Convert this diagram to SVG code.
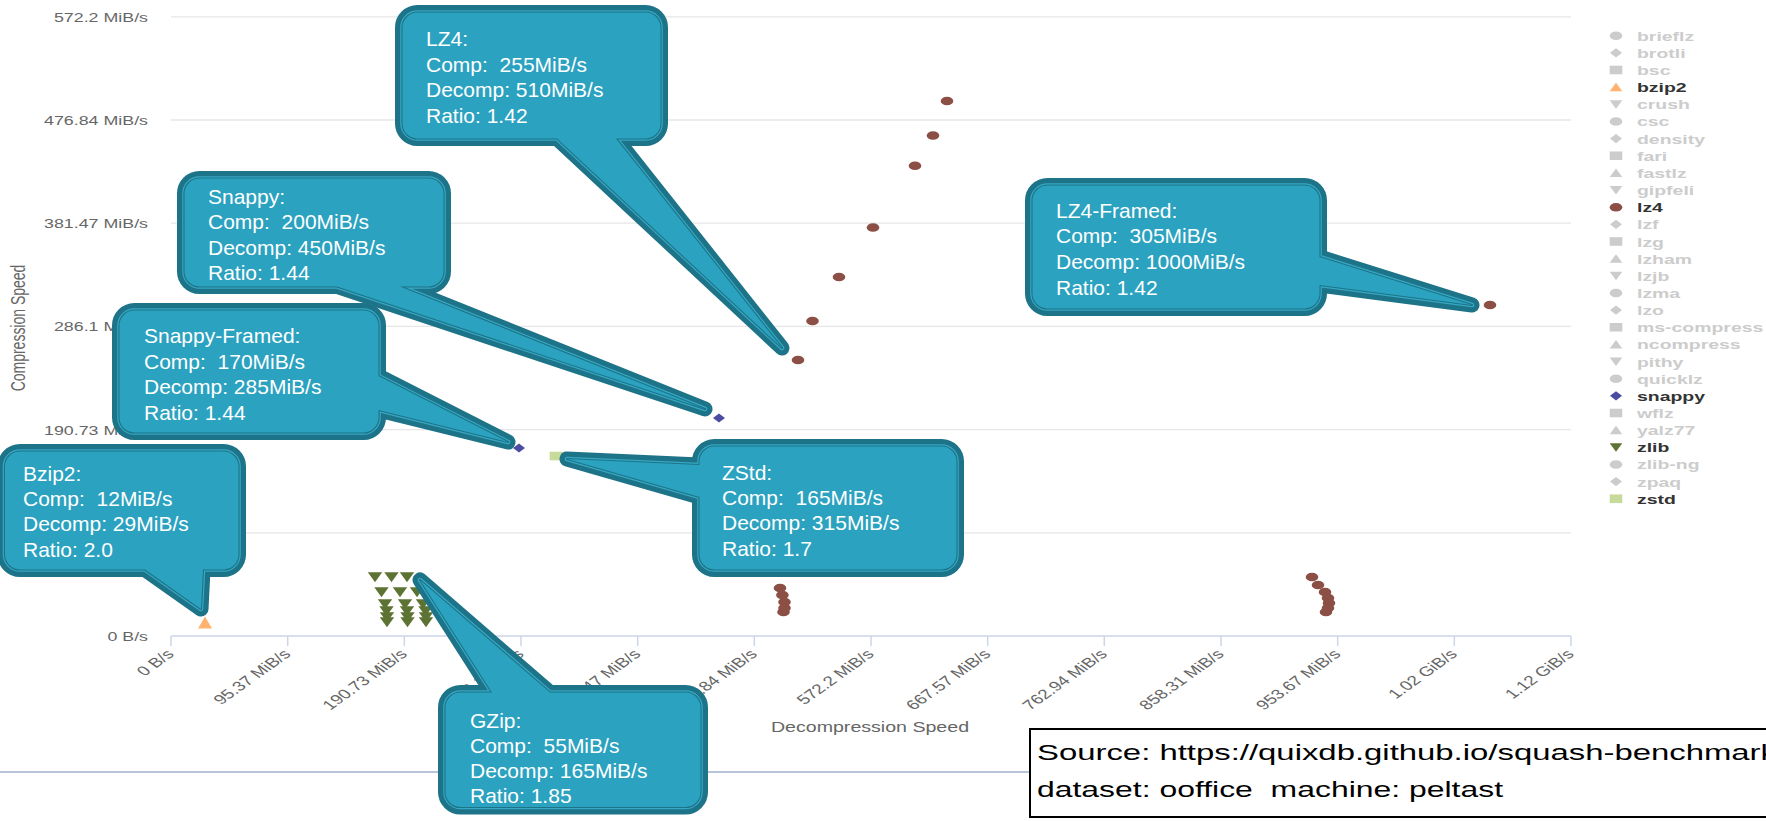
<svg xmlns="http://www.w3.org/2000/svg" xmlns:xlink="http://www.w3.org/1999/xlink" width="1766" height="821" viewBox="0 0 1766 821">
<style>
.grid line{stroke:#e6e6e6;stroke-width:1.3}
.axis{stroke:#ccd6eb;stroke-width:1.5;fill:none}
.ax{font-family:"Liberation Sans",Arial,sans-serif;font-size:13.5px;fill:#666}
.ttl{font-family:"Liberation Sans",Arial,sans-serif;font-size:14px;fill:#666}
.lg{font-family:"Liberation Sans",Arial,sans-serif;font-size:13.5px;font-weight:bold;fill:#cccccc}
.lg.on{fill:#333333}
.off{fill:#cccccc}
.b1{fill:none;stroke:#1d7388;stroke-width:15;stroke-linejoin:round}
.b2{fill:none;stroke:#36a8c3;stroke-width:4.6;stroke-linejoin:round}
.b3{fill:none;stroke:#1d7388;stroke-width:2.2;stroke-linejoin:round}
.bf{fill:#2ba2bf;stroke:none}
.bt{font-family:"Liberation Sans",Arial,sans-serif;font-size:21px;fill:#ffffff}
.src{font-family:"Liberation Sans",Arial,sans-serif;font-size:22px;fill:#000}
.lz4{fill:#8b4f45}
.snp{fill:#4d4ca3}
.zl{fill:#5d7334}
.zs{fill:#c8da9a}
.bz{fill:#ffb36e}
</style>
<defs>
<ellipse id="m-circle" rx="6.3" ry="4.3"/>
<path id="m-diamond" d="M0,-4.6 L6,0 L0,4.6 L-6,0 Z"/>
<rect id="m-square" x="-6.3" y="-4.3" width="12.6" height="8.6"/>
<path id="m-tri" d="M0,-4.5 L6.3,4 L-6.3,4 Z"/>
<path id="m-tridown" d="M-6.3,-4 L6.3,-4 L0,4.5 Z"/>
<path id="m-zl" d="M-7.2,-4.8 L7.2,-4.8 L0,5.2 Z"/>
<path id="p-lz4" d="M417.5,12.5 H645.5 A15,15 0 0 1 660.5,27.5 V123.5 A15,15 0 0 1 645.5,138.5 H616 L782,348 L557,138.5 H417.5 A15,15 0 0 1 402.5,123.5 V27.5 A15,15 0 0 1 417.5,12.5 Z"/>
<path id="p-snappy" d="M199.5,178.5 H428.5 A15,15 0 0 1 443.5,193.5 V271.5 A15,15 0 0 1 428.5,286.5 H400 L705,409 L337,286.5 H199.5 A15,15 0 0 1 184.5,271.5 V193.5 A15,15 0 0 1 199.5,178.5 Z"/>
<path id="p-sf" d="M134.5,310.5 H363.5 A15,15 0 0 1 378.5,325.5 V376 L508,442 L378.5,410 V417.5 A15,15 0 0 1 363.5,432.5 H134.5 A15,15 0 0 1 119.5,417.5 V325.5 A15,15 0 0 1 134.5,310.5 Z"/>
<path id="p-bzip2" d="M20,451.5 H223.5 A15,15 0 0 1 238.5,466.5 V554.5 A15,15 0 0 1 223.5,569.5 H203 L201,609 L145,569.5 H20 A15,15 0 0 1 5,554.5 V466.5 A15,15 0 0 1 20,451.5 Z"/>
<path id="p-zstd" d="M714.5,446.5 H941.5 A15,15 0 0 1 956.5,461.5 V554.5 A15,15 0 0 1 941.5,569.5 H714.5 A15,15 0 0 1 699.5,554.5 V497 L567,459 L699.5,465 V461.5 A15,15 0 0 1 714.5,446.5 Z"/>
<path id="p-lz4f" d="M1047.5,185.5 H1304.5 A15,15 0 0 1 1319.5,200.5 V257 L1472,305 L1319.5,285 V293.5 A15,15 0 0 1 1304.5,308.5 H1047.5 A15,15 0 0 1 1032.5,293.5 V200.5 A15,15 0 0 1 1047.5,185.5 Z"/>
<path id="p-gzip" d="M460.5,692.5 H492 L420,580 L550,692.5 H685.5 A15,15 0 0 1 700.5,707.5 V792 A15,15 0 0 1 685.5,807 H460.5 A15,15 0 0 1 445.5,792 V707.5 A15,15 0 0 1 460.5,692.5 Z"/>
</defs>
<rect width="1766" height="821" fill="#ffffff"/>

<g id="chart-grid" class="grid">
<line x1="171" y1="16.8" x2="1571" y2="16.8"/>
<line x1="171" y1="120" x2="1571" y2="120"/>
<line x1="171" y1="223.2" x2="1571" y2="223.2"/>
<line x1="171" y1="326.4" x2="1571" y2="326.4"/>
<line x1="171" y1="429.6" x2="1571" y2="429.6"/>
<line x1="171" y1="532.8" x2="1571" y2="532.8"/>
</g>

<g id="x-axis">
<path class="axis" d="M171,636 H1571 M171,636 V646 M287.7,636 V646 M404.3,636 V646 M521,636 V646 M637.7,636 V646 M754.3,636 V646 M871,636 V646 M987.7,636 V646 M1104.3,636 V646 M1221,636 V646 M1337.7,636 V646 M1454.3,636 V646 M1571,636 V646"/>
<text class="ax" text-anchor="end" transform="translate(175,655) scale(1.4,1) rotate(-45)">0 B/s</text>
<text class="ax" text-anchor="end" transform="translate(291.7,655) scale(1.4,1) rotate(-45)">95.37 MiB/s</text>
<text class="ax" text-anchor="end" transform="translate(408.3,655) scale(1.4,1) rotate(-45)">190.73 MiB/s</text>
<text class="ax" text-anchor="end" transform="translate(525,655) scale(1.4,1) rotate(-45)">286.1 MiB/s</text>
<text class="ax" text-anchor="end" transform="translate(641.7,655) scale(1.4,1) rotate(-45)">381.47 MiB/s</text>
<text class="ax" text-anchor="end" transform="translate(758.3,655) scale(1.4,1) rotate(-45)">476.84 MiB/s</text>
<text class="ax" text-anchor="end" transform="translate(875,655) scale(1.4,1) rotate(-45)">572.2 MiB/s</text>
<text class="ax" text-anchor="end" transform="translate(991.7,655) scale(1.4,1) rotate(-45)">667.57 MiB/s</text>
<text class="ax" text-anchor="end" transform="translate(1108.3,655) scale(1.4,1) rotate(-45)">762.94 MiB/s</text>
<text class="ax" text-anchor="end" transform="translate(1225,655) scale(1.4,1) rotate(-45)">858.31 MiB/s</text>
<text class="ax" text-anchor="end" transform="translate(1341.7,655) scale(1.4,1) rotate(-45)">953.67 MiB/s</text>
<text class="ax" text-anchor="end" transform="translate(1458.3,655) scale(1.4,1) rotate(-45)">1.02 GiB/s</text>
<text class="ax" text-anchor="end" transform="translate(1575,655) scale(1.4,1) rotate(-45)">1.12 GiB/s</text>
<text class="ttl" text-anchor="middle" transform="translate(870,732) scale(1.4,1)">Decompression Speed</text>
</g>

<g id="y-axis">
<text class="ax" text-anchor="end" transform="translate(148,21.8) scale(1.32,1)">572.2 MiB/s</text>
<text class="ax" text-anchor="end" transform="translate(148,125) scale(1.32,1)">476.84 MiB/s</text>
<text class="ax" text-anchor="end" transform="translate(148,228.2) scale(1.32,1)">381.47 MiB/s</text>
<text class="ax" text-anchor="end" transform="translate(148,331.4) scale(1.32,1)">286.1 MiB/s</text>
<text class="ax" text-anchor="end" transform="translate(148,434.6) scale(1.32,1)">190.73 MiB/s</text>
<text class="ax" text-anchor="end" transform="translate(148,641) scale(1.32,1)">0 B/s</text>
<text class="ttl" text-anchor="middle" transform="translate(25,328) scale(1.4,1) rotate(-90)">Compression Speed</text>
</g>

<g id="series-lz4" class="lz4">
<use href="#m-circle" x="798" y="360"/>
<use href="#m-circle" x="812.5" y="321"/>
<use href="#m-circle" x="839" y="277"/>
<use href="#m-circle" x="873" y="227.5"/>
<use href="#m-circle" x="915" y="165.7"/>
<use href="#m-circle" x="933" y="135.5"/>
<use href="#m-circle" x="947" y="101"/>
<use href="#m-circle" x="780" y="588"/>
<use href="#m-circle" x="782.4" y="595"/>
<use href="#m-circle" x="784.5" y="602"/>
<use href="#m-circle" x="784.5" y="608"/>
<use href="#m-circle" x="783.5" y="612"/>
<use href="#m-circle" x="1312" y="577"/>
<use href="#m-circle" x="1318" y="585"/>
<use href="#m-circle" x="1325" y="592"/>
<use href="#m-circle" x="1328" y="598"/>
<use href="#m-circle" x="1329" y="603"/>
<use href="#m-circle" x="1328" y="608"/>
<use href="#m-circle" x="1326" y="612"/>
<use href="#m-circle" x="1490" y="305"/>
</g>
<g id="series-snappy" class="snp">
<use href="#m-diamond" x="719" y="418"/>
<use href="#m-diamond" x="519" y="448"/>
</g>
<g id="series-zstd" class="zs">
<use href="#m-square" x="556" y="456"/>
</g>
<g id="series-bzip2" class="bz">
<path d="M205,616.5 L212,628.5 L198,628.5 Z"/>
</g>
<g id="series-zlib" class="zl">
<use href="#m-zl" x="375" y="577"/>
<use href="#m-zl" x="391.5" y="577"/>
<use href="#m-zl" x="407" y="577"/>
<use href="#m-zl" x="381.5" y="592"/>
<use href="#m-zl" x="400" y="592"/>
<use href="#m-zl" x="417" y="592"/>
<use href="#m-zl" x="385" y="604"/>
<use href="#m-zl" x="405" y="604"/>
<use href="#m-zl" x="423" y="604"/>
<use href="#m-zl" x="386.5" y="611"/>
<use href="#m-zl" x="407" y="611"/>
<use href="#m-zl" x="425.5" y="611"/>
<use href="#m-zl" x="387" y="617"/>
<use href="#m-zl" x="407.5" y="617"/>
<use href="#m-zl" x="426" y="617"/>
<use href="#m-zl" x="387" y="622"/>
<use href="#m-zl" x="407.5" y="622"/>
<use href="#m-zl" x="426" y="622"/>
</g>

<g id="legend">
<use href="#m-circle" class="off" x="1616" y="35.7"/><text class="lg" transform="translate(1637,40.7) scale(1.44,1)">brieflz</text>
<use href="#m-diamond" class="off" x="1616" y="52.85"/><text class="lg" transform="translate(1637,57.85) scale(1.44,1)">brotli</text>
<use href="#m-square" class="off" x="1616" y="70"/><text class="lg" transform="translate(1637,75) scale(1.44,1)">bsc</text>
<use href="#m-tri" class="bz" x="1616" y="87.15"/><text class="lg on" transform="translate(1637,92.15) scale(1.44,1)">bzip2</text>
<use href="#m-tridown" class="off" x="1616" y="104.3"/><text class="lg" transform="translate(1637,109.3) scale(1.44,1)">crush</text>
<use href="#m-circle" class="off" x="1616" y="121.45"/><text class="lg" transform="translate(1637,126.45) scale(1.44,1)">csc</text>
<use href="#m-diamond" class="off" x="1616" y="138.6"/><text class="lg" transform="translate(1637,143.6) scale(1.44,1)">density</text>
<use href="#m-square" class="off" x="1616" y="155.75"/><text class="lg" transform="translate(1637,160.75) scale(1.44,1)">fari</text>
<use href="#m-tri" class="off" x="1616" y="172.9"/><text class="lg" transform="translate(1637,177.9) scale(1.44,1)">fastlz</text>
<use href="#m-tridown" class="off" x="1616" y="190.05"/><text class="lg" transform="translate(1637,195.05) scale(1.44,1)">gipfeli</text>
<use href="#m-circle" class="lz4" x="1616" y="207.2"/><text class="lg on" transform="translate(1637,212.2) scale(1.44,1)">lz4</text>
<use href="#m-diamond" class="off" x="1616" y="224.35"/><text class="lg" transform="translate(1637,229.35) scale(1.44,1)">lzf</text>
<use href="#m-square" class="off" x="1616" y="241.5"/><text class="lg" transform="translate(1637,246.5) scale(1.44,1)">lzg</text>
<use href="#m-tri" class="off" x="1616" y="258.65"/><text class="lg" transform="translate(1637,263.65) scale(1.44,1)">lzham</text>
<use href="#m-tridown" class="off" x="1616" y="275.8"/><text class="lg" transform="translate(1637,280.8) scale(1.44,1)">lzjb</text>
<use href="#m-circle" class="off" x="1616" y="292.95"/><text class="lg" transform="translate(1637,297.95) scale(1.44,1)">lzma</text>
<use href="#m-diamond" class="off" x="1616" y="310.1"/><text class="lg" transform="translate(1637,315.1) scale(1.44,1)">lzo</text>
<use href="#m-square" class="off" x="1616" y="327.25"/><text class="lg" transform="translate(1637,332.25) scale(1.44,1)">ms-compress</text>
<use href="#m-tri" class="off" x="1616" y="344.4"/><text class="lg" transform="translate(1637,349.4) scale(1.44,1)">ncompress</text>
<use href="#m-tridown" class="off" x="1616" y="361.55"/><text class="lg" transform="translate(1637,366.55) scale(1.44,1)">pithy</text>
<use href="#m-circle" class="off" x="1616" y="378.7"/><text class="lg" transform="translate(1637,383.7) scale(1.44,1)">quicklz</text>
<use href="#m-diamond" class="snp" x="1616" y="395.85"/><text class="lg on" transform="translate(1637,400.85) scale(1.44,1)">snappy</text>
<use href="#m-square" class="off" x="1616" y="413"/><text class="lg" transform="translate(1637,418) scale(1.44,1)">wflz</text>
<use href="#m-tri" class="off" x="1616" y="430.15"/><text class="lg" transform="translate(1637,435.15) scale(1.44,1)">yalz77</text>
<use href="#m-tridown" class="zl" x="1616" y="447.3"/><text class="lg on" transform="translate(1637,452.3) scale(1.44,1)">zlib</text>
<use href="#m-circle" class="off" x="1616" y="464.45"/><text class="lg" transform="translate(1637,469.45) scale(1.44,1)">zlib-ng</text>
<use href="#m-diamond" class="off" x="1616" y="481.6"/><text class="lg" transform="translate(1637,486.6) scale(1.44,1)">zpaq</text>
<use href="#m-square" class="zs" x="1616" y="498.75"/><text class="lg on" transform="translate(1637,503.75) scale(1.44,1)">zstd</text>
</g>

<line id="divider" x1="0" y1="772" x2="1030" y2="772" stroke="#9fb1cc" stroke-width="1.5"/>

<g id="source-box">
<rect x="1030" y="729" width="760" height="88" fill="#ffffff" stroke="#000000" stroke-width="2"/>
<text class="src" x="1037" y="760" textLength="740" lengthAdjust="spacingAndGlyphs">Source: https://quixdb.github.io/squash-benchmark</text>
<text class="src" x="1037" y="797" textLength="466" lengthAdjust="spacingAndGlyphs">dataset: ooffice&#160; machine: peltast</text>
</g>

<g id="bubble-bzip2">
<use href="#p-bzip2" class="b1"/><use href="#p-bzip2" class="b2"/><use href="#p-bzip2" class="b3"/><use href="#p-bzip2" class="bf"/>
<text class="bt"><tspan x="23" y="480.5">Bzip2:</tspan><tspan x="23" y="506">Comp:&#160; 12MiB/s</tspan><tspan x="23" y="531">Decomp: 29MiB/s</tspan><tspan x="23" y="556.5">Ratio: 2.0</tspan></text>
</g>

<g id="bubble-snappy-framed">
<use href="#p-sf" class="b1"/><use href="#p-sf" class="b2"/><use href="#p-sf" class="b3"/><use href="#p-sf" class="bf"/>
<text class="bt"><tspan x="144" y="343">Snappy-Framed:</tspan><tspan x="144" y="368.5">Comp:&#160; 170MiB/s</tspan><tspan x="144" y="394">Decomp: 285MiB/s</tspan><tspan x="144" y="419.5">Ratio: 1.44</tspan></text>
</g>

<g id="bubble-snappy">
<use href="#p-snappy" class="b1"/><use href="#p-snappy" class="b2"/><use href="#p-snappy" class="b3"/><use href="#p-snappy" class="bf"/>
<text class="bt"><tspan x="208" y="204">Snappy:</tspan><tspan x="208" y="229">Comp:&#160; 200MiB/s</tspan><tspan x="208" y="254.5">Decomp: 450MiB/s</tspan><tspan x="208" y="280">Ratio: 1.44</tspan></text>
</g>

<g id="bubble-lz4">
<use href="#p-lz4" class="b1"/><use href="#p-lz4" class="b2"/><use href="#p-lz4" class="b3"/><use href="#p-lz4" class="bf"/>
<text class="bt"><tspan x="426" y="46">LZ4:</tspan><tspan x="426" y="71.5">Comp:&#160; 255MiB/s</tspan><tspan x="426" y="97">Decomp: 510MiB/s</tspan><tspan x="426" y="122.5">Ratio: 1.42</tspan></text>
</g>

<g id="bubble-zstd">
<use href="#p-zstd" class="b1"/><use href="#p-zstd" class="b2"/><use href="#p-zstd" class="b3"/><use href="#p-zstd" class="bf"/>
<text class="bt"><tspan x="722" y="479.5">ZStd:</tspan><tspan x="722" y="505">Comp:&#160; 165MiB/s</tspan><tspan x="722" y="530">Decomp: 315MiB/s</tspan><tspan x="722" y="555.5">Ratio: 1.7</tspan></text>
</g>

<g id="bubble-lz4-framed">
<use href="#p-lz4f" class="b1"/><use href="#p-lz4f" class="b2"/><use href="#p-lz4f" class="b3"/><use href="#p-lz4f" class="bf"/>
<text class="bt"><tspan x="1056" y="217.5">LZ4-Framed:</tspan><tspan x="1056" y="243">Comp:&#160; 305MiB/s</tspan><tspan x="1056" y="269">Decomp: 1000MiB/s</tspan><tspan x="1056" y="294.5">Ratio: 1.42</tspan></text>
</g>

<g id="bubble-gzip">
<use href="#p-gzip" class="b1"/><use href="#p-gzip" class="b2"/><use href="#p-gzip" class="b3"/><use href="#p-gzip" class="bf"/>
<text class="bt"><tspan x="470" y="728">GZip:</tspan><tspan x="470" y="753">Comp:&#160; 55MiB/s</tspan><tspan x="470" y="778">Decomp: 165MiB/s</tspan><tspan x="470" y="803">Ratio: 1.85</tspan></text>
</g>
</svg>
